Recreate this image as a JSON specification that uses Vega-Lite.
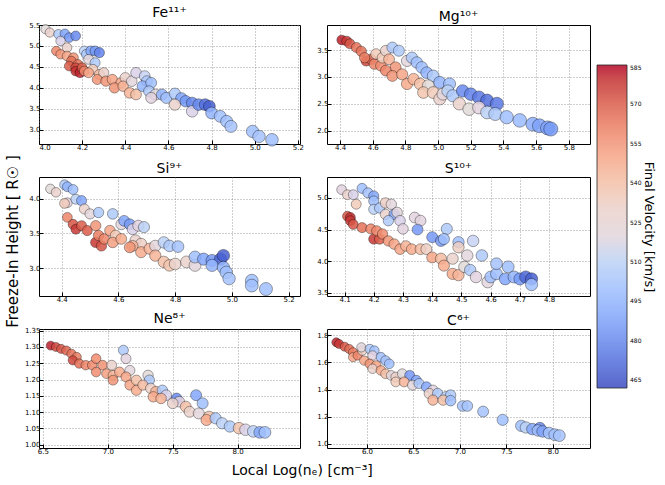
{
  "$schema": "https://vega.github.io/schema/vega-lite/v6.json",
  "data": {
    "values": [
      {"ion":"Fe","ne":4.03,"h":5.40,"v":525},{"ion":"Fe","ne":4.05,"h":5.32,"v":530},{"ion":"Fe","ne":4.09,"h":5.28,"v":505},{"ion":"Fe","ne":4.12,"h":5.29,"v":490},{"ion":"Fe","ne":4.14,"h":5.20,"v":485},{"ion":"Fe","ne":4.17,"h":5.24,"v":480},{"ion":"Fe","ne":4.10,"h":5.12,"v":515},{"ion":"Fe","ne":4.13,"h":4.96,"v":530},{"ion":"Fe","ne":4.08,"h":4.88,"v":560},{"ion":"Fe","ne":4.10,"h":4.80,"v":555},{"ion":"Fe","ne":4.13,"h":4.76,"v":550},{"ion":"Fe","ne":4.16,"h":4.72,"v":555},{"ion":"Fe","ne":4.15,"h":4.64,"v":565},{"ion":"Fe","ne":4.14,"h":4.52,"v":570},{"ion":"Fe","ne":4.18,"h":4.56,"v":565},{"ion":"Fe","ne":4.17,"h":4.48,"v":575},{"ion":"Fe","ne":4.17,"h":4.40,"v":580},{"ion":"Fe","ne":4.19,"h":4.36,"v":582},{"ion":"Fe","ne":4.20,"h":4.48,"v":570},{"ion":"Fe","ne":4.21,"h":4.40,"v":560},{"ion":"Fe","ne":4.21,"h":4.88,"v":510},{"ion":"Fe","ne":4.22,"h":4.80,"v":505},{"ion":"Fe","ne":4.24,"h":4.88,"v":490},{"ion":"Fe","ne":4.26,"h":4.88,"v":485},{"ion":"Fe","ne":4.28,"h":4.84,"v":478},{"ion":"Fe","ne":4.23,"h":4.68,"v":520},{"ion":"Fe","ne":4.26,"h":4.60,"v":505},{"ion":"Fe","ne":4.25,"h":4.44,"v":535},{"ion":"Fe","ne":4.23,"h":4.36,"v":550},{"ion":"Fe","ne":4.28,"h":4.32,"v":540},{"ion":"Fe","ne":4.30,"h":4.36,"v":530},{"ion":"Fe","ne":4.27,"h":4.20,"v":555},{"ion":"Fe","ne":4.31,"h":4.16,"v":555},{"ion":"Fe","ne":4.34,"h":4.20,"v":550},{"ion":"Fe","ne":4.38,"h":4.12,"v":550},{"ion":"Fe","ne":4.35,"h":4.00,"v":555},{"ion":"Fe","ne":4.40,"h":4.24,"v":530},{"ion":"Fe","ne":4.39,"h":4.04,"v":545},{"ion":"Fe","ne":4.42,"h":3.88,"v":545},{"ion":"Fe","ne":4.45,"h":3.84,"v":540},{"ion":"Fe","ne":4.43,"h":4.16,"v":520},{"ion":"Fe","ne":4.45,"h":4.36,"v":515},{"ion":"Fe","ne":4.49,"h":4.28,"v":512},{"ion":"Fe","ne":4.50,"h":4.16,"v":505},{"ion":"Fe","ne":4.48,"h":4.04,"v":495},{"ion":"Fe","ne":4.52,"h":4.12,"v":500},{"ion":"Fe","ne":4.51,"h":3.92,"v":505},{"ion":"Fe","ne":4.54,"h":3.84,"v":522},{"ion":"Fe","ne":4.52,"h":3.76,"v":518},{"ion":"Fe","ne":4.57,"h":3.84,"v":495},{"ion":"Fe","ne":4.59,"h":3.76,"v":500},{"ion":"Fe","ne":4.63,"h":3.86,"v":505},{"ion":"Fe","ne":4.66,"h":3.75,"v":490},{"ion":"Fe","ne":4.68,"h":3.68,"v":485},{"ion":"Fe","ne":4.71,"h":3.64,"v":480},{"ion":"Fe","ne":4.63,"h":3.60,"v":530},{"ion":"Fe","ne":4.71,"h":3.44,"v":515},{"ion":"Fe","ne":4.74,"h":3.60,"v":480},{"ion":"Fe","ne":4.77,"h":3.60,"v":472},{"ion":"Fe","ne":4.79,"h":3.56,"v":468},{"ion":"Fe","ne":4.80,"h":3.40,"v":495},{"ion":"Fe","ne":4.84,"h":3.32,"v":500},{"ion":"Fe","ne":4.87,"h":3.20,"v":500},{"ion":"Fe","ne":4.89,"h":3.08,"v":502},{"ion":"Fe","ne":4.99,"h":2.96,"v":500},{"ion":"Fe","ne":5.02,"h":2.84,"v":502},{"ion":"Fe","ne":5.08,"h":2.76,"v":500},

      {"ion":"Mg","ne":4.41,"h":3.69,"v":582},{"ion":"Mg","ne":4.44,"h":3.67,"v":578},{"ion":"Mg","ne":4.46,"h":3.62,"v":572},{"ion":"Mg","ne":4.50,"h":3.55,"v":565},{"ion":"Mg","ne":4.53,"h":3.48,"v":565},{"ion":"Mg","ne":4.56,"h":3.30,"v":575},{"ion":"Mg","ne":4.59,"h":3.33,"v":568},{"ion":"Mg","ne":4.55,"h":3.36,"v":562},{"ion":"Mg","ne":4.61,"h":3.24,"v":560},{"ion":"Mg","ne":4.65,"h":3.21,"v":558},{"ion":"Mg","ne":4.62,"h":3.43,"v":535},{"ion":"Mg","ne":4.66,"h":3.36,"v":535},{"ion":"Mg","ne":4.68,"h":3.49,"v":530},{"ion":"Mg","ne":4.72,"h":3.55,"v":505},{"ion":"Mg","ne":4.76,"h":3.49,"v":505},{"ion":"Mg","ne":4.70,"h":3.33,"v":545},{"ion":"Mg","ne":4.74,"h":3.18,"v":555},{"ion":"Mg","ne":4.68,"h":3.12,"v":560},{"ion":"Mg","ne":4.72,"h":3.02,"v":555},{"ion":"Mg","ne":4.78,"h":3.05,"v":550},{"ion":"Mg","ne":4.81,"h":3.30,"v":520},{"ion":"Mg","ne":4.84,"h":3.36,"v":505},{"ion":"Mg","ne":4.87,"h":3.27,"v":500},{"ion":"Mg","ne":4.90,"h":3.18,"v":500},{"ion":"Mg","ne":4.93,"h":3.08,"v":495},{"ion":"Mg","ne":4.97,"h":3.02,"v":505},{"ion":"Mg","ne":5.01,"h":2.90,"v":495},{"ion":"Mg","ne":5.07,"h":2.87,"v":500},{"ion":"Mg","ne":4.81,"h":2.87,"v":548},{"ion":"Mg","ne":4.85,"h":2.96,"v":545},{"ion":"Mg","ne":4.89,"h":2.87,"v":540},{"ion":"Mg","ne":4.94,"h":2.84,"v":525},{"ion":"Mg","ne":4.91,"h":2.71,"v":538},{"ion":"Mg","ne":4.97,"h":2.71,"v":535},{"ion":"Mg","ne":5.01,"h":2.59,"v":530},{"ion":"Mg","ne":5.03,"h":2.68,"v":520},{"ion":"Mg","ne":5.06,"h":2.74,"v":510},{"ion":"Mg","ne":5.09,"h":2.65,"v":505},{"ion":"Mg","ne":5.15,"h":2.74,"v":480},{"ion":"Mg","ne":5.20,"h":2.68,"v":478},{"ion":"Mg","ne":5.25,"h":2.62,"v":475},{"ion":"Mg","ne":5.30,"h":2.56,"v":472},{"ion":"Mg","ne":5.36,"h":2.50,"v":475},{"ion":"Mg","ne":5.13,"h":2.50,"v":530},{"ion":"Mg","ne":5.19,"h":2.40,"v":525},{"ion":"Mg","ne":5.25,"h":2.43,"v":518},{"ion":"Mg","ne":5.30,"h":2.34,"v":510},{"ion":"Mg","ne":5.35,"h":2.31,"v":505},{"ion":"Mg","ne":5.42,"h":2.25,"v":500},{"ion":"Mg","ne":5.50,"h":2.19,"v":498},{"ion":"Mg","ne":5.58,"h":2.12,"v":492},{"ion":"Mg","ne":5.62,"h":2.09,"v":488},{"ion":"Mg","ne":5.67,"h":2.05,"v":488},{"ion":"Mg","ne":5.69,"h":2.03,"v":485},

      {"ion":"Si","ne":4.36,"h":4.14,"v":525},{"ion":"Si","ne":4.38,"h":4.09,"v":530},{"ion":"Si","ne":4.41,"h":4.20,"v":505},{"ion":"Si","ne":4.42,"h":4.17,"v":495},{"ion":"Si","ne":4.44,"h":4.13,"v":500},{"ion":"Si","ne":4.42,"h":3.94,"v":518},{"ion":"Si","ne":4.45,"h":3.99,"v":510},{"ion":"Si","ne":4.41,"h":3.93,"v":535},{"ion":"Si","ne":4.47,"h":3.97,"v":490},{"ion":"Si","ne":4.48,"h":3.85,"v":530},{"ion":"Si","ne":4.50,"h":3.78,"v":520},{"ion":"Si","ne":4.53,"h":3.80,"v":505},{"ion":"Si","ne":4.58,"h":3.78,"v":505},{"ion":"Si","ne":4.42,"h":3.73,"v":560},{"ion":"Si","ne":4.44,"h":3.63,"v":572},{"ion":"Si","ne":4.45,"h":3.56,"v":578},{"ion":"Si","ne":4.47,"h":3.61,"v":570},{"ion":"Si","ne":4.49,"h":3.54,"v":570},{"ion":"Si","ne":4.52,"h":3.61,"v":555},{"ion":"Si","ne":4.52,"h":3.37,"v":578},{"ion":"Si","ne":4.54,"h":3.32,"v":572},{"ion":"Si","ne":4.53,"h":3.47,"v":562},{"ion":"Si","ne":4.55,"h":3.42,"v":560},{"ion":"Si","ne":4.57,"h":3.54,"v":550},{"ion":"Si","ne":4.59,"h":3.47,"v":535},{"ion":"Si","ne":4.58,"h":3.37,"v":552},{"ion":"Si","ne":4.61,"h":3.42,"v":548},{"ion":"Si","ne":4.61,"h":3.63,"v":520},{"ion":"Si","ne":4.62,"h":3.68,"v":490},{"ion":"Si","ne":4.64,"h":3.63,"v":485},{"ion":"Si","ne":4.65,"h":3.56,"v":515},{"ion":"Si","ne":4.67,"h":3.61,"v":518},{"ion":"Si","ne":4.69,"h":3.59,"v":510},{"ion":"Si","ne":4.66,"h":3.40,"v":530},{"ion":"Si","ne":4.68,"h":3.35,"v":532},{"ion":"Si","ne":4.65,"h":3.32,"v":545},{"ion":"Si","ne":4.64,"h":3.30,"v":555},{"ion":"Si","ne":4.68,"h":3.23,"v":548},{"ion":"Si","ne":4.71,"h":3.28,"v":545},{"ion":"Si","ne":4.73,"h":3.32,"v":520},{"ion":"Si","ne":4.76,"h":3.37,"v":510},{"ion":"Si","ne":4.78,"h":3.32,"v":505},{"ion":"Si","ne":4.81,"h":3.31,"v":502},{"ion":"Si","ne":4.73,"h":3.18,"v":545},{"ion":"Si","ne":4.76,"h":3.09,"v":540},{"ion":"Si","ne":4.78,"h":3.04,"v":538},{"ion":"Si","ne":4.80,"h":3.06,"v":530},{"ion":"Si","ne":4.84,"h":3.09,"v":530},{"ion":"Si","ne":4.87,"h":3.04,"v":520},{"ion":"Si","ne":4.87,"h":3.16,"v":500},{"ion":"Si","ne":4.90,"h":3.13,"v":490},{"ion":"Si","ne":4.93,"h":3.11,"v":485},{"ion":"Si","ne":4.96,"h":3.13,"v":470},{"ion":"Si","ne":4.97,"h":3.18,"v":468},{"ion":"Si","ne":4.93,"h":3.04,"v":495},{"ion":"Si","ne":4.97,"h":3.01,"v":495},{"ion":"Si","ne":4.98,"h":2.94,"v":500},{"ion":"Si","ne":4.99,"h":2.85,"v":502},{"ion":"Si","ne":5.07,"h":2.82,"v":500},{"ion":"Si","ne":5.07,"h":2.75,"v":500},{"ion":"Si","ne":5.12,"h":2.70,"v":500},

      {"ion":"S","ne":4.09,"h":5.13,"v":518},{"ion":"S","ne":4.11,"h":5.05,"v":530},{"ion":"S","ne":4.13,"h":5.05,"v":515},{"ion":"S","ne":4.16,"h":5.15,"v":500},{"ion":"S","ne":4.18,"h":5.08,"v":502},{"ion":"S","ne":4.20,"h":5.03,"v":490},{"ion":"S","ne":4.20,"h":4.95,"v":500},{"ion":"S","ne":4.14,"h":4.90,"v":535},{"ion":"S","ne":4.20,"h":4.82,"v":510},{"ion":"S","ne":4.22,"h":4.84,"v":505},{"ion":"S","ne":4.24,"h":4.92,"v":532},{"ion":"S","ne":4.26,"h":4.90,"v":520},{"ion":"S","ne":4.24,"h":4.74,"v":530},{"ion":"S","ne":4.27,"h":4.74,"v":490},{"ion":"S","ne":4.28,"h":4.77,"v":520},{"ion":"S","ne":4.29,"h":4.64,"v":515},{"ion":"S","ne":4.25,"h":4.64,"v":505},{"ion":"S","ne":4.30,"h":4.51,"v":518},{"ion":"S","ne":4.11,"h":4.71,"v":572},{"ion":"S","ne":4.12,"h":4.69,"v":580},{"ion":"S","ne":4.12,"h":4.64,"v":578},{"ion":"S","ne":4.13,"h":4.58,"v":572},{"ion":"S","ne":4.16,"h":4.53,"v":565},{"ion":"S","ne":4.19,"h":4.51,"v":560},{"ion":"S","ne":4.20,"h":4.35,"v":578},{"ion":"S","ne":4.22,"h":4.35,"v":570},{"ion":"S","ne":4.21,"h":4.48,"v":560},{"ion":"S","ne":4.23,"h":4.43,"v":558},{"ion":"S","ne":4.25,"h":4.32,"v":555},{"ion":"S","ne":4.27,"h":4.27,"v":550},{"ion":"S","ne":4.29,"h":4.19,"v":550},{"ion":"S","ne":4.31,"h":4.24,"v":545},{"ion":"S","ne":4.33,"h":4.19,"v":548},{"ion":"S","ne":4.36,"h":4.19,"v":542},{"ion":"S","ne":4.38,"h":4.19,"v":532},{"ion":"S","ne":4.34,"h":4.69,"v":518},{"ion":"S","ne":4.36,"h":4.64,"v":518},{"ion":"S","ne":4.35,"h":4.50,"v":485},{"ion":"S","ne":4.40,"h":4.38,"v":485},{"ion":"S","ne":4.43,"h":4.32,"v":485},{"ion":"S","ne":4.45,"h":4.51,"v":505},{"ion":"S","ne":4.44,"h":4.35,"v":500},{"ion":"S","ne":4.49,"h":4.30,"v":500},{"ion":"S","ne":4.49,"h":4.22,"v":532},{"ion":"S","ne":4.54,"h":4.32,"v":512},{"ion":"S","ne":4.52,"h":4.09,"v":520},{"ion":"S","ne":4.57,"h":4.09,"v":505},{"ion":"S","ne":4.40,"h":4.06,"v":550},{"ion":"S","ne":4.43,"h":4.04,"v":542},{"ion":"S","ne":4.47,"h":4.04,"v":530},{"ion":"S","ne":4.44,"h":3.93,"v":548},{"ion":"S","ne":4.47,"h":3.80,"v":548},{"ion":"S","ne":4.49,"h":3.78,"v":545},{"ion":"S","ne":4.51,"h":3.91,"v":525},{"ion":"S","ne":4.53,"h":3.86,"v":505},{"ion":"S","ne":4.55,"h":3.75,"v":518},{"ion":"S","ne":4.59,"h":3.67,"v":520},{"ion":"S","ne":4.60,"h":3.75,"v":500},{"ion":"S","ne":4.62,"h":3.80,"v":500},{"ion":"S","ne":4.62,"h":3.96,"v":502},{"ion":"S","ne":4.66,"h":3.91,"v":500},{"ion":"S","ne":4.65,"h":3.72,"v":490},{"ion":"S","ne":4.68,"h":3.75,"v":495},{"ion":"S","ne":4.70,"h":3.72,"v":485},{"ion":"S","ne":4.72,"h":3.75,"v":470},{"ion":"S","ne":4.74,"h":3.72,"v":468},{"ion":"S","ne":4.74,"h":3.63,"v":500},

      {"ion":"Ne","ne":6.56,"h":1.304,"v":582},{"ion":"Ne","ne":6.60,"h":1.300,"v":575},{"ion":"Ne","ne":6.64,"h":1.294,"v":572},{"ion":"Ne","ne":6.68,"h":1.289,"v":568},{"ion":"Ne","ne":6.72,"h":1.279,"v":565},{"ion":"Ne","ne":6.76,"h":1.269,"v":562},{"ion":"Ne","ne":6.73,"h":1.259,"v":575},{"ion":"Ne","ne":6.78,"h":1.249,"v":565},{"ion":"Ne","ne":6.83,"h":1.244,"v":560},{"ion":"Ne","ne":6.88,"h":1.244,"v":558},{"ion":"Ne","ne":6.91,"h":1.264,"v":558},{"ion":"Ne","ne":6.96,"h":1.244,"v":556},{"ion":"Ne","ne":6.91,"h":1.223,"v":558},{"ion":"Ne","ne":6.99,"h":1.218,"v":552},{"ion":"Ne","ne":7.04,"h":1.213,"v":545},{"ion":"Ne","ne":7.04,"h":1.198,"v":555},{"ion":"Ne","ne":7.09,"h":1.223,"v":548},{"ion":"Ne","ne":7.03,"h":1.244,"v":530},{"ion":"Ne","ne":7.12,"h":1.290,"v":505},{"ion":"Ne","ne":7.14,"h":1.264,"v":518},{"ion":"Ne","ne":7.17,"h":1.228,"v":520},{"ion":"Ne","ne":7.14,"h":1.208,"v":550},{"ion":"Ne","ne":7.17,"h":1.183,"v":550},{"ion":"Ne","ne":7.22,"h":1.198,"v":540},{"ion":"Ne","ne":7.22,"h":1.167,"v":548},{"ion":"Ne","ne":7.31,"h":1.213,"v":525},{"ion":"Ne","ne":7.32,"h":1.198,"v":505},{"ion":"Ne","ne":7.27,"h":1.183,"v":542},{"ion":"Ne","ne":7.33,"h":1.173,"v":532},{"ion":"Ne","ne":7.37,"h":1.163,"v":545},{"ion":"Ne","ne":7.35,"h":1.147,"v":548},{"ion":"Ne","ne":7.42,"h":1.167,"v":505},{"ion":"Ne","ne":7.45,"h":1.152,"v":515},{"ion":"Ne","ne":7.41,"h":1.142,"v":545},{"ion":"Ne","ne":7.53,"h":1.142,"v":480},{"ion":"Ne","ne":7.55,"h":1.132,"v":518},{"ion":"Ne","ne":7.50,"h":1.127,"v":530},{"ion":"Ne","ne":7.60,"h":1.117,"v":540},{"ion":"Ne","ne":7.63,"h":1.101,"v":530},{"ion":"Ne","ne":7.68,"h":1.152,"v":490},{"ion":"Ne","ne":7.73,"h":1.127,"v":500},{"ion":"Ne","ne":7.70,"h":1.096,"v":520},{"ion":"Ne","ne":7.78,"h":1.086,"v":540},{"ion":"Ne","ne":7.76,"h":1.076,"v":548},{"ion":"Ne","ne":7.83,"h":1.081,"v":505},{"ion":"Ne","ne":7.88,"h":1.066,"v":510},{"ion":"Ne","ne":7.94,"h":1.056,"v":505},{"ion":"Ne","ne":8.01,"h":1.051,"v":538},{"ion":"Ne","ne":8.06,"h":1.046,"v":515},{"ion":"Ne","ne":8.12,"h":1.041,"v":510},{"ion":"Ne","ne":8.17,"h":1.038,"v":490},{"ion":"Ne","ne":8.21,"h":1.038,"v":500},

      {"ion":"C","ne":5.67,"h":1.747,"v":582},{"ion":"C","ne":5.70,"h":1.735,"v":578},{"ion":"C","ne":5.76,"h":1.715,"v":572},{"ion":"C","ne":5.81,"h":1.698,"v":566},{"ion":"C","ne":5.85,"h":1.674,"v":562},{"ion":"C","ne":5.85,"h":1.638,"v":550},{"ion":"C","ne":5.90,"h":1.650,"v":560},{"ion":"C","ne":5.95,"h":1.686,"v":532},{"ion":"C","ne":5.94,"h":1.710,"v":520},{"ion":"C","ne":6.03,"h":1.698,"v":505},{"ion":"C","ne":6.08,"h":1.686,"v":502},{"ion":"C","ne":6.06,"h":1.650,"v":518},{"ion":"C","ne":6.15,"h":1.638,"v":500},{"ion":"C","ne":6.20,"h":1.613,"v":502},{"ion":"C","ne":6.24,"h":1.589,"v":500},{"ion":"C","ne":5.97,"h":1.613,"v":550},{"ion":"C","ne":6.03,"h":1.589,"v":556},{"ion":"C","ne":6.10,"h":1.577,"v":550},{"ion":"C","ne":6.06,"h":1.553,"v":530},{"ion":"C","ne":6.15,"h":1.540,"v":548},{"ion":"C","ne":6.20,"h":1.516,"v":540},{"ion":"C","ne":6.26,"h":1.504,"v":520},{"ion":"C","ne":6.31,"h":1.492,"v":530},{"ion":"C","ne":6.38,"h":1.516,"v":522},{"ion":"C","ne":6.46,"h":1.504,"v":485},{"ion":"C","ne":6.53,"h":1.468,"v":488},{"ion":"C","ne":6.31,"h":1.456,"v":535},{"ion":"C","ne":6.40,"h":1.456,"v":545},{"ion":"C","ne":6.49,"h":1.432,"v":520},{"ion":"C","ne":6.56,"h":1.444,"v":505},{"ion":"C","ne":6.64,"h":1.419,"v":490},{"ion":"C","ne":6.71,"h":1.395,"v":518},{"ion":"C","ne":6.67,"h":1.371,"v":530},{"ion":"C","ne":6.76,"h":1.371,"v":505},{"ion":"C","ne":6.85,"h":1.347,"v":510},{"ion":"C","ne":6.90,"h":1.359,"v":505},{"ion":"C","ne":6.71,"h":1.322,"v":545},{"ion":"C","ne":6.82,"h":1.322,"v":540},{"ion":"C","ne":6.90,"h":1.318,"v":500},{"ion":"C","ne":7.03,"h":1.279,"v":502},{"ion":"C","ne":7.08,"h":1.279,"v":502},{"ion":"C","ne":7.25,"h":1.238,"v":502},{"ion":"C","ne":7.46,"h":1.177,"v":500},{"ion":"C","ne":7.66,"h":1.133,"v":500},{"ion":"C","ne":7.71,"h":1.121,"v":510},{"ion":"C","ne":7.78,"h":1.109,"v":490},{"ion":"C","ne":7.86,"h":1.116,"v":480},{"ion":"C","ne":7.84,"h":1.099,"v":500},{"ion":"C","ne":7.89,"h":1.092,"v":488},{"ion":"C","ne":7.96,"h":1.080,"v":500},{"ion":"C","ne":8.02,"h":1.068,"v":500},{"ion":"C","ne":8.07,"h":1.061,"v":502}
    ]
  },
  "title": {"text": "Freeze-In Height [ R☉ ]", "orient": "left", "anchor": "middle", "fontSize": 15, "fontWeight": "normal", "offset": 3},
  "vconcat": [
    {
      "title": {"text": "Local Log(nₑ) [cm⁻³]", "orient": "bottom", "anchor": "middle", "fontSize": 14, "fontWeight": "normal", "offset": 9, "dx": -5},
      "columns": 2,
      "bounds": "flush",
      "spacing": {"row": 33, "column": 27},
      "concat": [
        {
          "title": "Fe¹¹⁺",
          "width": 261, "height": 119,
          "transform": [{"filter": "datum.ion === 'Fe'"}],
          "mark": {"type": "circle", "opacity": 0.85, "stroke": "black", "strokeWidth": 0.6, "strokeOpacity": 0.7},
          "encoding": {
            "x": {"field": "ne", "type": "quantitative", "title": null, "scale": {"domain": [4.0, 5.21], "nice": false, "zero": false}, "axis": {"values": [4.0, 4.2, 4.4, 4.6, 4.8, 5.0, 5.2], "format": ".1f"}},
            "y": {"field": "h", "type": "quantitative", "title": null, "scale": {"domain": [2.66, 5.5], "nice": false, "zero": false}, "axis": {"values": [3.0, 3.5, 4.0, 4.5, 5.0, 5.5], "format": ".1f"}},
            "color": {"field": "v", "type": "quantitative", "scale": {"domain": [462, 585], "range": ["#3b4cc0", "#5977e3", "#7b9ff9", "#9ebeff", "#c0d4f5", "#dddcdc", "#f2cbb7", "#f7ac8e", "#ee8468", "#d65244", "#b40426"]},
              "legend": {"orient": "none", "legendX": 558, "legendY": 40, "direction": "vertical", "gradientLength": 323, "gradientThickness": 30, "values": [465, 480, 495, 510, 525, 540, 555, 570, 585], "title": "Final Velocity [km/s]", "titleOrient": "right", "titleFontSize": 13, "titleFontWeight": "normal", "titleAnchor": "middle", "titlePadding": 1, "labelFontSize": 6, "labelOffset": 3, "gradientStrokeColor": "black", "gradientStrokeWidth": 0.8,
                "encode": {"title": {"update": {"angle": {"value": -90}, "baseline": {"value": "top"}}}}}},
            "size": {"field": "ne", "type": "quantitative", "scale": {"range": [85, 160], "zero": false}, "legend": null}
          }
        },
        {
          "title": "Mg¹⁰⁺",
          "width": 263, "height": 119,
          "transform": [{"filter": "datum.ion === 'Mg'"}],
          "mark": {"type": "circle", "opacity": 0.85, "stroke": "black", "strokeWidth": 0.6, "strokeOpacity": 0.7},
          "encoding": {
            "x": {"field": "ne", "type": "quantitative", "title": null, "scale": {"domain": [4.32, 5.93], "nice": false, "zero": false}, "axis": {"values": [4.4, 4.6, 4.8, 5.0, 5.2, 5.4, 5.6, 5.8], "format": ".1f"}},
            "y": {"field": "h", "type": "quantitative", "title": null, "scale": {"domain": [1.75, 3.97], "nice": false, "zero": false}, "axis": {"values": [2.0, 2.5, 3.0, 3.5], "format": ".1f"}},
            "color": {"field": "v", "type": "quantitative"},
            "size": {"field": "ne", "type": "quantitative", "scale": {"range": [95, 200], "zero": false}, "legend": null}
          }
        },
        {
          "title": "Si⁹⁺",
          "width": 261, "height": 119,
          "transform": [{"filter": "datum.ion === 'Si'"}],
          "mark": {"type": "circle", "opacity": 0.85, "stroke": "black", "strokeWidth": 0.6, "strokeOpacity": 0.7},
          "encoding": {
            "x": {"field": "ne", "type": "quantitative", "title": null, "scale": {"domain": [4.32, 5.24], "nice": false, "zero": false}, "axis": {"values": [4.4, 4.6, 4.8, 5.0, 5.2], "format": ".1f"}},
            "y": {"field": "h", "type": "quantitative", "title": null, "scale": {"domain": [2.6, 4.31], "nice": false, "zero": false}, "axis": {"values": [3.0, 3.5, 4.0], "format": ".1f"}},
            "color": {"field": "v", "type": "quantitative"},
            "size": {"field": "ne", "type": "quantitative", "scale": {"range": [90, 170], "zero": false}, "legend": null}
          }
        },
        {
          "title": "S¹⁰⁺",
          "width": 263, "height": 119,
          "transform": [{"filter": "datum.ion === 'S'"}],
          "mark": {"type": "circle", "opacity": 0.85, "stroke": "black", "strokeWidth": 0.6, "strokeOpacity": 0.7},
          "encoding": {
            "x": {"field": "ne", "type": "quantitative", "title": null, "scale": {"domain": [4.04, 4.94], "nice": false, "zero": false}, "axis": {"values": [4.1, 4.2, 4.3, 4.4, 4.5, 4.6, 4.7, 4.8], "format": ".1f"}},
            "y": {"field": "h", "type": "quantitative", "title": null, "scale": {"domain": [3.45, 5.33], "nice": false, "zero": false}, "axis": {"values": [3.5, 4.0, 4.5, 5.0], "format": ".1f"}},
            "color": {"field": "v", "type": "quantitative"},
            "size": {"field": "ne", "type": "quantitative", "scale": {"range": [95, 150], "zero": false}, "legend": null}
          }
        },
        {
          "title": "Ne⁸⁺",
          "width": 261, "height": 119,
          "transform": [{"filter": "datum.ion === 'Ne'"}],
          "mark": {"type": "circle", "opacity": 0.85, "stroke": "black", "strokeWidth": 0.6, "strokeOpacity": 0.7},
          "encoding": {
            "x": {"field": "ne", "type": "quantitative", "title": null, "scale": {"domain": [6.47, 8.48], "nice": false, "zero": false}, "axis": {"values": [6.5, 7.0, 7.5, 8.0], "format": ".1f"}},
            "y": {"field": "h", "type": "quantitative", "title": null, "scale": {"domain": [0.99, 1.355], "nice": false, "zero": false}, "axis": {"values": [1.0, 1.05, 1.1, 1.15, 1.2, 1.25, 1.3, 1.35], "format": ".2f"}},
            "color": {"field": "v", "type": "quantitative"},
            "size": {"field": "ne", "type": "quantitative", "scale": {"range": [80, 140], "zero": false}, "legend": null}
          }
        },
        {
          "title": "C⁶⁺",
          "width": 263, "height": 119,
          "transform": [{"filter": "datum.ion === 'C'"}],
          "mark": {"type": "circle", "opacity": 0.85, "stroke": "black", "strokeWidth": 0.6, "strokeOpacity": 0.7},
          "encoding": {
            "x": {"field": "ne", "type": "quantitative", "title": null, "scale": {"domain": [5.57, 8.4], "nice": false, "zero": false}, "axis": {"values": [6.0, 6.5, 7.0, 7.5, 8.0], "format": ".1f"}},
            "y": {"field": "h", "type": "quantitative", "title": null, "scale": {"domain": [0.97, 1.845], "nice": false, "zero": false}, "axis": {"values": [1.0, 1.2, 1.4, 1.6, 1.8], "format": ".1f"}},
            "color": {"field": "v", "type": "quantitative"},
            "size": {"field": "ne", "type": "quantitative", "scale": {"range": [80, 140], "zero": false}, "legend": null}
          }
        }
      ],
      "resolve": {"scale": {"x": "independent", "y": "independent", "size": "independent"}}
    }
  ],
  "config": {
    "font": "DejaVu Sans",
    "view": {"stroke": "black", "strokeWidth": 1},
    "axis": {"labelFontSize": 7, "labelColor": "black", "domain": false, "grid": true, "gridDash": [1, 2], "gridColor": "#777", "gridWidth": 0.7, "tickColor": "black", "tickSize": -4, "labelPadding": 3, "minExtent": 0},
    "title": {"fontSize": 14, "fontWeight": "normal", "offset": 1, "color": "black"}
  }
}
